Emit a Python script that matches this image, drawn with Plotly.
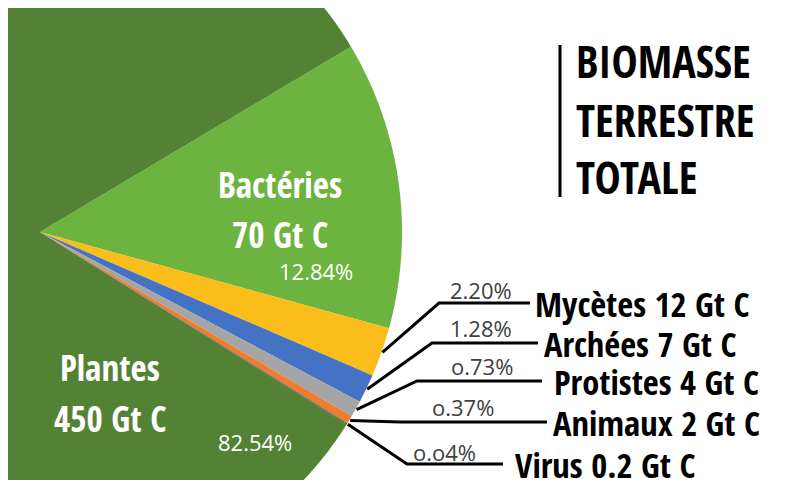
import numpy as np
import plotly.graph_objects as go

# --- Données : biomasse terrestre (Gt C), dans l'ordre horaire du camembert ---
noms = ["Bactéries", "Mycètes", "Archées", "Protistes", "Animaux", "Virus", "Plantes"]
valeurs = [70, 12, 7, 4, 2, 0.2, 450]
couleurs = ["#6DB33F", "#FBBD19", "#4472C4", "#A5A5A5", "#ED7D31", "#264478", "#548235"]
titre = ["BIOMASSE", "TERRESTRE", "TOTALE"]

# --- Géométrie du camembert (unités = pixels de la page) ---
CX, CY, R = 40, 232, 362
DEBUT = 30.8  # angle de départ en degrés, sens horaire

POLICE_GRAS = "Open Sans Condensed, Roboto Condensed, sans-serif"
POLICE_TXT = "Open Sans, sans-serif"

total = sum(valeurs)
pourcents = [v / total * 100 for v in valeurs]


def point(angle, rayon=R):
    a = np.radians(angle)
    return CX + rayon * np.cos(a), CY - rayon * np.sin(a)


fig = go.Figure()

# Secteurs dessinés comme polygones remplis
angles_milieu = []
cumul = 0
for nom, v, p, c in zip(noms, valeurs, pourcents, couleurs):
    a0 = DEBUT - cumul / total * 360
    a1 = a0 - v / total * 360
    cumul += v
    angles_milieu.append((a0 + a1) / 2)
    arc = np.linspace(a0, a1, max(3, int(abs(a1 - a0) * 2) + 2))
    xs, ys = point(arc)
    fig.add_trace(go.Scatter(
        x=np.concatenate([[CX], xs, [CX]]),
        y=np.concatenate([[CY], ys, [CY]]),
        fill="toself", fillcolor=c, mode="none",
        name=nom, hoverinfo="text",
        text=f"{nom} : {v:g} Gt C ({p:.2f}%)",
        showlegend=False,
    ))

# Étiquettes extérieures (petits secteurs) : coude, fin du trait, position du texte
coudes = [(439, 303), (432, 343), (417, 381), (400, 422), (407, 464)]
fins_x = [530, 538, 542, 547, 503]
textes_x = [533, 542, 552, 551, 513]
pct_pos = [(481, 290), (481, 328), (482, 366), (463, 407), (444, 452)]

annotations = []
for i, (cx_, cy_) in enumerate(coudes):
    k = i + 1
    x0, y0 = point(angles_milieu[k], R + 1)
    fig.add_trace(go.Scatter(
        x=[x0, cx_, fins_x[i]], y=[y0, cy_, cy_], mode="lines",
        line=dict(color="black", width=3), hoverinfo="skip", showlegend=False,
    ))
    annotations.append(dict(
        x=textes_x[i], y=cy_, text=f"<b>{noms[k]} {valeurs[k]:g} Gt C</b>",
        xanchor="left", yanchor="middle",
        font=dict(family=POLICE_GRAS, size=34.5, color="black"),
    ))
    txt = f"{pourcents[k]:.2f}%"
    if pourcents[k] < 1:
        txt = txt.replace("0", "o")  # chiffres elzéviriens du visuel d'origine
    annotations.append(dict(
        x=pct_pos[i][0], y=pct_pos[i][1], text=txt,
        xanchor="center", yanchor="middle",
        font=dict(family=POLICE_TXT, size=22, color="#404040"),
    ))

# Étiquettes intérieures
for nom, v, p, (x, y1, y2), (px_, py_) in [
    (noms[0], valeurs[0], pourcents[0], (280, 184, 234), (316, 271)),
    (noms[6], valeurs[6], pourcents[6], (110, 367, 418), (255, 442)),
]:
    annotations.append(dict(x=x, y=y1, text=f"<b>{nom}</b>",
                            font=dict(family=POLICE_GRAS, size=35, color="white")))
    annotations.append(dict(x=x, y=y2, text=f"<b>{v:g} Gt C</b>",
                            font=dict(family=POLICE_GRAS, size=35, color="white")))
    annotations.append(dict(x=px_, y=py_, text=f"{p:.2f}%",
                            font=dict(family=POLICE_TXT, size=22, color="white")))

# Titre
for ligne, y in zip(titre, [61, 120, 177]):
    annotations.append(dict(x=574, y=y, text=f"<b>{ligne}</b>", xanchor="left",
                            font=dict(family=POLICE_GRAS, size=44, color="black")))

for a in annotations:
    a.update(xref="x", yref="y", showarrow=False)
    a.setdefault("xanchor", "center")
    a.setdefault("yanchor", "middle")

fig.update_layout(
    width=800, height=488,
    margin=dict(l=0, r=0, t=0, b=16),
    paper_bgcolor="white", plot_bgcolor="white",
    xaxis=dict(range=[8, 808], visible=False, fixedrange=True),
    yaxis=dict(range=[480, 8], visible=False, fixedrange=True),
    annotations=annotations,
    shapes=[dict(type="line", xref="x", yref="y", x0=560, x1=560, y0=45, y1=197,
                 line=dict(color="black", width=3))],
)

fig.write_html("out.html")
